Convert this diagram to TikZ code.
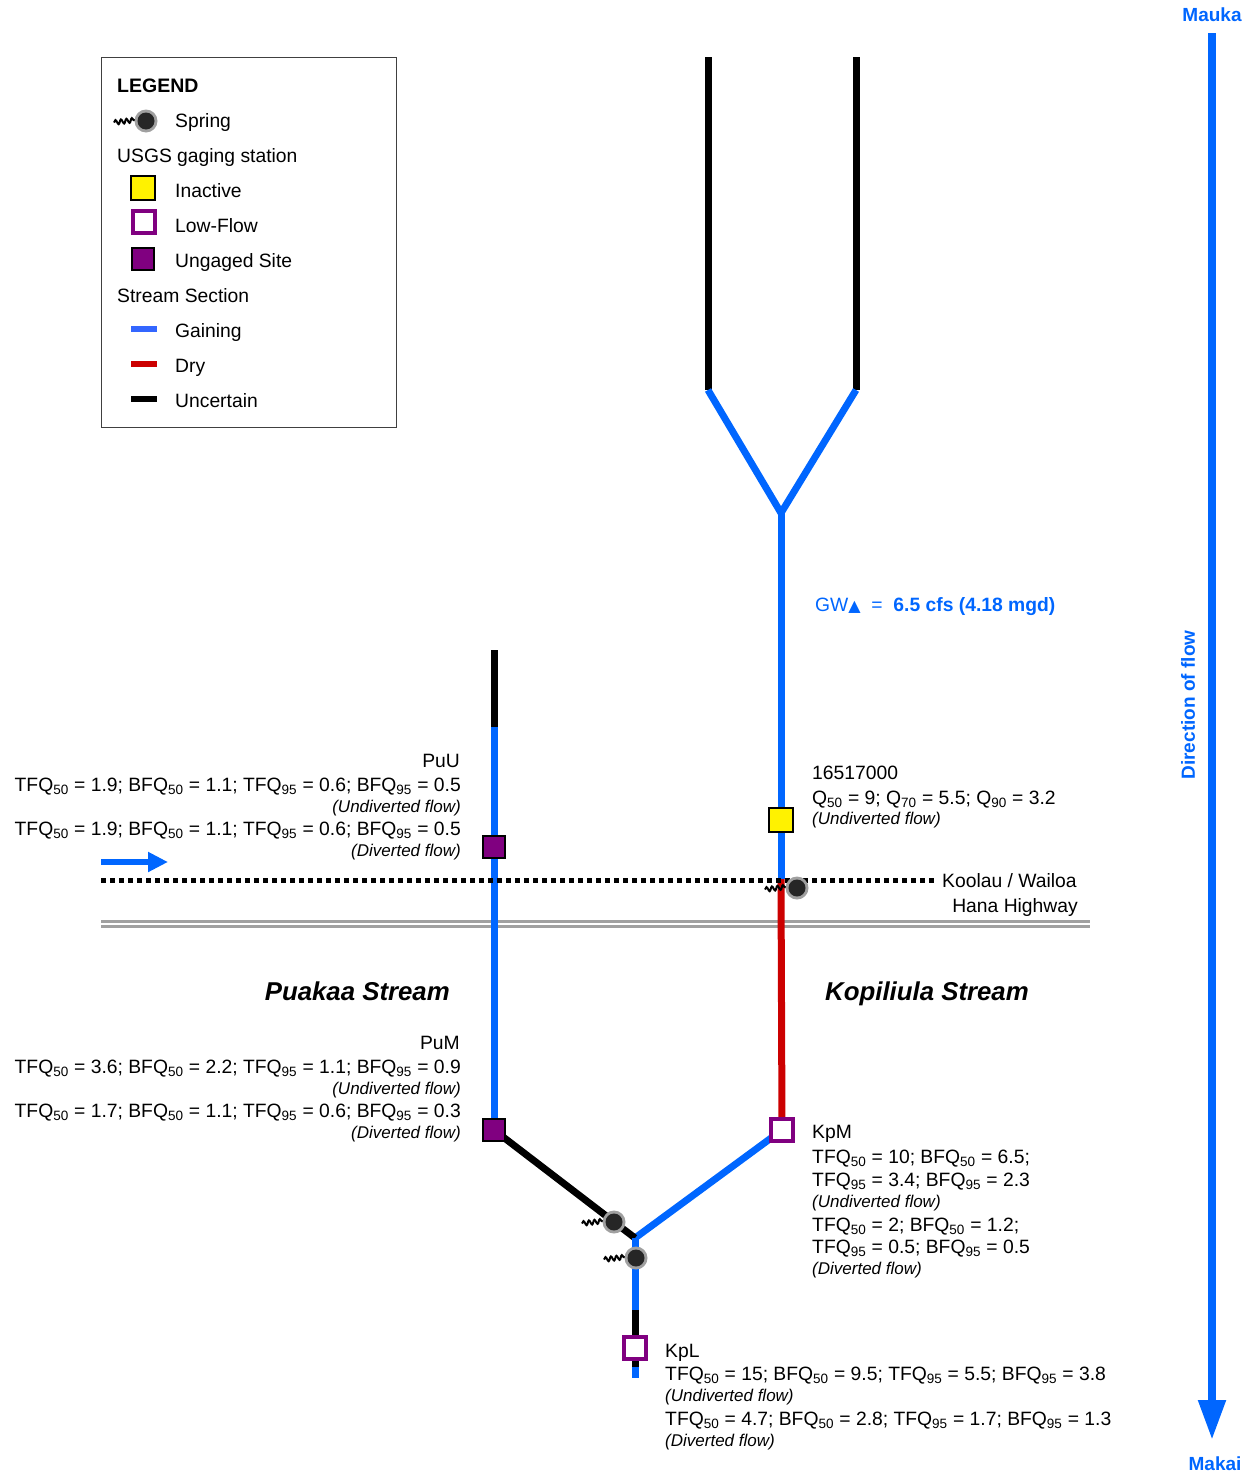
\documentclass[tikz,border=0pt]{standalone}
\usepackage{fontspec}
\setmainfont{Liberation Sans}
\newfontfamily\symfont{DejaVu Sans}
\usetikzlibrary{arrows.meta,decorations.pathmorphing}
\definecolor{sblue}{RGB}{0,102,255}
\definecolor{lblue}{RGB}{51,102,255}
\definecolor{sred}{RGB}{204,0,0}
\definecolor{spurple}{RGB}{128,0,128}
\definecolor{hgray}{RGB}{160,160,160}
\newcommand{\sbs}[1]{\textsubscript{#1}}
\begin{document}
\begin{tikzpicture}[x=1pt,y=-1pt,
 txt/.style={inner sep=0pt,font=\fontsize{19.3}{23}\selectfont},
 itx/.style={inner sep=0pt,font=\fontsize{17}{20}\selectfont\itshape},
 bigtitle/.style={inner sep=0pt,font=\fontsize{25.8}{30}\selectfont\bfseries\itshape},
 dirtxt/.style={inner sep=0pt,text=sblue,font=\fontsize{19}{23}\selectfont\bfseries},
 gain/.style={draw=sblue,line width=7pt},
 dry/.style={draw=sred,line width=7pt},
 unc/.style={draw=black,line width=7pt},
 inactive/.style={draw=black,line width=1.2pt,fill=yellow,minimum size=24pt,inner sep=0pt},
 lowflow/.style={draw=spurple,line width=4.5pt,fill=white,minimum size=22pt,inner sep=0pt},
 ungaged/.style={draw=black,line width=1.5pt,fill=spurple,minimum size=22pt,inner sep=0pt},
 springpic/.pic={
   \draw[black,line width=2pt,decorate,decoration={snake,segment length=5.5pt,amplitude=2.2pt}] (-32,1.5) -- (-11,-1);
   \fill[hgray] (0,0) circle (11.5);
   \fill[black!85] (0,0) circle (8.5);
 }
]
\useasboundingbox (0,0) rectangle (1254,1475);

% ---------------- Legend ----------------
\draw[black!75,line width=1pt] (101,57) rectangle (396,427);
\node[txt,anchor=base west,font=\fontsize{19.5}{23}\selectfont\bfseries] (lgtitle) at (117,92) {LEGEND};
\pic at (146,121) {springpic};
\node[txt,anchor=base west] (lgspring) at (175,127) {Spring};
\node[txt,anchor=base west] (lgusgs) at (117,162) {USGS gaging station};
\node[inactive] (lgina) at (143,188) {};
\node[txt,anchor=base west] (lginat) at (175,197) {Inactive};
\node[lowflow] (lglow) at (144,222) {};
\node[txt,anchor=base west] (lglowt) at (175,232) {Low-Flow};
\node[ungaged] (lgung) at (143,259) {};
\node[txt,anchor=base west] (lgungt) at (175,267) {Ungaged Site};
\node[txt,anchor=base west] (lgsec) at (117,302) {Stream Section};
\coordinate (lgA1) at (131,329); \coordinate (lgA2) at (157,329);
\coordinate (lgB1) at (131,364); \coordinate (lgB2) at (157,364);
\coordinate (lgC1) at (131,399); \coordinate (lgC2) at (157,399);
\draw[lblue,line width=6pt] (lgA1) -- (lgA2);
\draw[sred,line width=6pt] (lgB1) -- (lgB2);
\draw[black,line width=6pt] (lgC1) -- (lgC2);
\node[txt,anchor=base west] (lggain) at (175,337) {Gaining};
\node[txt,anchor=base west] (lgdry) at (175,372) {Dry};
\node[txt,anchor=base west] (lgunc) at (175,407) {Uncertain};

% ---------------- Coordinates ----------------
\coordinate (kLt) at (708,57);  \coordinate (kLb) at (708,390);
\coordinate (kRt) at (856,57);  \coordinate (kRb) at (856,390);
\coordinate (kJ) at (781,513);
\coordinate (kstC) at (781,820);
\coordinate (kDry) at (781,879);
\coordinate (kpmC) at (782,1130);
\coordinate (jn) at (635,1238);
\coordinate (kplA) at (635,1310);
\coordinate (kplC) at (635,1348);
\coordinate (kplB) at (635,1367);
\coordinate (kplE) at (635,1378);
\coordinate (pTop) at (494,650);
\coordinate (pB) at (494,727);
\coordinate (puuC) at (494,847);
\coordinate (pumC) at (494,1130);
\coordinate (dotL) at (101,880); \coordinate (dotR) at (935,880);
\coordinate (hwL1) at (101,921.5); \coordinate (hwR1) at (1090,921.5);
\coordinate (hwL2) at (101,926.5); \coordinate (hwR2) at (1090,926.5);
\coordinate (arL) at (101,862); \coordinate (arR) at (168,862);
\coordinate (dirT) at (1212,33); \coordinate (dirB) at (1212,1440);

% ---------------- Highway ----------------
\draw[hgray,line width=2.2pt] (hwL1) -- (hwR1);
\draw[hgray,line width=2.2pt] (hwL2) -- (hwR2);

% ---------------- Streams ----------------
\draw[unc] (kLt) -- (kLb);
\draw[unc] (kRt) -- (kRb);
\draw[gain] (kLb) -- (kJ) -- (kRb);
\draw[gain] (kJ) -- (kDry);
\draw[dry] (kDry) -- (kpmC);
\draw[gain] (kpmC) -- (jn);
\draw[unc] (pTop) -- (pB);
\draw[gain] (pB) -- (pumC);
\draw[unc] (pumC) -- (jn);
\draw[gain] (jn) -- (kplA);
\draw[unc] (kplA) -- (kplB);
\draw[gain] (kplB) -- (kplE);

\draw[black,line width=5pt,dash pattern=on 5pt off 4pt] (dotL) -- (dotR);

% ---------------- Stations ----------------
\node[inactive] (kst) at (kstC) {};
\node[lowflow] (kpm) at (kpmC) {};
\node[lowflow] (kpl) at (kplC) {};
\node[ungaged] (puu) at (puuC) {};
\node[ungaged] (pum) at (pumC) {};

% ---------------- Springs ----------------
\pic at (797,888) {springpic};
\pic at (614,1222) {springpic};
\pic at (636,1258) {springpic};

% ---------------- Arrows ----------------
\draw[sblue,line width=6.5pt,-{Triangle[length=20pt,width=19pt]}] (arL) -- (arR);
\draw[sblue,line width=8pt,-{Triangle[length=40pt,width=26pt]}] (dirT) -- (dirB);
\node[dirtxt,anchor=base] (mauka) at (1212,21) {Mauka};
\node[dirtxt,anchor=base] (makai) at (1215,1470) {Makai};
\node[dirtxt,rotate=90] (dirflow) at (1188,705) {Direction of flow};

% ---------------- Labels ----------------
\node[txt,anchor=base west,text=sblue] (gw) at (815,611) {GW{\symfont\fontsize{16}{20}\selectfont▲}\ \ =\ \ \textbf{6.5 cfs (4.18 mgd)}};

\node[txt,anchor=base west] (koolau) at (942,887) {Koolau / Wailoa};
\node[txt,anchor=base east] (hana) at (1078,912) {Hana Highway};

\node[bigtitle,anchor=base east] (puakaa) at (450,1000) {Puakaa Stream};
\node[bigtitle,anchor=base west] (kopiliula) at (825,1000) {Kopiliula Stream};

% PuU
\node[txt,anchor=base east] (puut) at (460,767) {PuU};
\node[txt,anchor=base east] (puu1) at (461,791) {TFQ\sbs{50} = 1.9; BFQ\sbs{50} = 1.1; TFQ\sbs{95} = 0.6; BFQ\sbs{95} = 0.5};
\node[itx,anchor=base east] (puu2) at (461,812) {(Undiverted flow)};
\node[txt,anchor=base east] (puu3) at (461,835) {TFQ\sbs{50} = 1.9; BFQ\sbs{50} = 1.1; TFQ\sbs{95} = 0.6; BFQ\sbs{95} = 0.5};
\node[itx,anchor=base east] (puu4) at (461,856) {(Diverted flow)};

% PuM
\node[txt,anchor=base east] (pumt) at (460,1049) {PuM};
\node[txt,anchor=base east] (pum1) at (461,1073) {TFQ\sbs{50} = 3.6; BFQ\sbs{50} = 2.2; TFQ\sbs{95} = 1.1; BFQ\sbs{95} = 0.9};
\node[itx,anchor=base east] (pum2) at (461,1094) {(Undiverted flow)};
\node[txt,anchor=base east] (pum3) at (461,1117) {TFQ\sbs{50} = 1.7; BFQ\sbs{50} = 1.1; TFQ\sbs{95} = 0.6; BFQ\sbs{95} = 0.3};
\node[itx,anchor=base east] (pum4) at (461,1138) {(Diverted flow)};

% 16517000
\node[txt,anchor=base west] (kstt) at (812,779) {16517000};
\node[txt,anchor=base west] (kst1) at (812,804) {Q\sbs{50} = 9; Q\sbs{70} = 5.5; Q\sbs{90} = 3.2};
\node[itx,anchor=base west] (kst2) at (812,824) {(Undiverted flow)};

% KpM
\node[txt,anchor=base west] (kpmt) at (812,1138) {KpM};
\node[txt,anchor=base west] (kpm1) at (812,1163) {TFQ\sbs{50} = 10; BFQ\sbs{50} = 6.5;};
\node[txt,anchor=base west] (kpm2) at (812,1186) {TFQ\sbs{95} = 3.4; BFQ\sbs{95} = 2.3};
\node[itx,anchor=base west] (kpm3) at (812,1207) {(Undiverted flow)};
\node[txt,anchor=base west] (kpm4) at (812,1231) {TFQ\sbs{50} = 2; BFQ\sbs{50} = 1.2;};
\node[txt,anchor=base west] (kpm5) at (812,1253) {TFQ\sbs{95} = 0.5; BFQ\sbs{95} = 0.5};
\node[itx,anchor=base west] (kpm6) at (812,1274) {(Diverted flow)};

% KpL
\node[txt,anchor=base west] (kplt) at (665,1357) {KpL};
\node[txt,anchor=base west] (kpl1) at (665,1380) {TFQ\sbs{50} = 15; BFQ\sbs{50} = 9.5; TFQ\sbs{95} = 5.5; BFQ\sbs{95} = 3.8};
\node[itx,anchor=base west] (kpl2) at (665,1401) {(Undiverted flow)};
\node[txt,anchor=base west] (kpl3) at (665,1425) {TFQ\sbs{50} = 4.7; BFQ\sbs{50} = 2.8; TFQ\sbs{95} = 1.7; BFQ\sbs{95} = 1.3};
\node[itx,anchor=base west] (kpl4) at (665,1446) {(Diverted flow)};
\end{tikzpicture}
\end{document}
